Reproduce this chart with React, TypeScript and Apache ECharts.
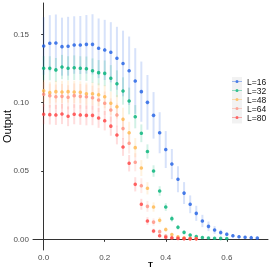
import React, { useEffect, useRef } from "react";
import * as echarts from "echarts";

const T = [0, 0.02, 0.04, 0.06, 0.08, 0.1, 0.12, 0.14, 0.16, 0.18, 0.2, 0.22, 0.24, 0.26, 0.28, 0.3, 0.32, 0.34, 0.36, 0.38, 0.4, 0.42, 0.44, 0.46, 0.48, 0.5, 0.52, 0.54, 0.56, 0.58, 0.6, 0.62, 0.64, 0.66, 0.68, 0.7];

const L16 = [0.1413, 0.1433, 0.1435, 0.1408, 0.1411, 0.142, 0.142, 0.1425, 0.1425, 0.1396, 0.1384, 0.1367, 0.1323, 0.1285, 0.1232, 0.1157, 0.1079, 0.1001, 0.0906, 0.0779, 0.0656, 0.055, 0.0439, 0.0338, 0.0256, 0.019, 0.0134, 0.0095, 0.0068, 0.005, 0.0037, 0.0026, 0.0019, 0.0015, 0.0012, 0.0009];
const L16err = [0.021, 0.0205, 0.0208, 0.0212, 0.0215, 0.021, 0.0212, 0.0214, 0.022, 0.0218, 0.022, 0.022, 0.023, 0.024, 0.025, 0.024, 0.022, 0.02, 0.017, 0.015, 0.0135, 0.011, 0.0095, 0.008, 0.0065, 0.0055, 0.0045, 0.0035, 0.0028, 0.002, 0.0015, 0.0012, 0.001, 0.0008, 0.0006, 0.0005];

const L32 = [0.125, 0.125, 0.1238, 0.1259, 0.125, 0.1254, 0.125, 0.1247, 0.1232, 0.1218, 0.1213, 0.1177, 0.1137, 0.1084, 0.1011, 0.0896, 0.0775, 0.0642, 0.0499, 0.0353, 0.0236, 0.0151, 0.0088, 0.0051, 0.0031, 0.002, 0.0013, 0.001, 0.0008, 0.0007, 0.0006];
const L32err = [0.0088, 0.0088, 0.0087, 0.0089, 0.0088, 0.009, 0.0088, 0.0089, 0.009, 0.0092, 0.0094, 0.0096, 0.0098, 0.01, 0.0098, 0.0085, 0.0065, 0.0052, 0.0042, 0.0035, 0.0028, 0.0022, 0.0017, 0.0012, 0.0009, 0.0007, 0.0005, 0.0004, 0.0003, 0.0003, 0.0002];

const L48 = [0.1085, 0.1072, 0.1079, 0.1077, 0.1079, 0.1077, 0.1075, 0.1064, 0.1064, 0.1057, 0.1042, 0.0994, 0.0969, 0.0877, 0.0779, 0.067, 0.0521, 0.0373, 0.0236, 0.0139, 0.0072, 0.0035, 0.0019, 0.0011, 0.0007, 0.0006];
const L48err = [0.008, 0.008, 0.0079, 0.0081, 0.008, 0.0082, 0.008, 0.0081, 0.0082, 0.0083, 0.0084, 0.0085, 0.0086, 0.0085, 0.008, 0.007, 0.0058, 0.0045, 0.0034, 0.0024, 0.0016, 0.001, 0.0007, 0.0005, 0.0004, 0.0003];

const L64 = [0.106, 0.105, 0.1042, 0.1045, 0.1038, 0.105, 0.1045, 0.1042, 0.1035, 0.1018, 0.0994, 0.0945, 0.0909, 0.081, 0.0702, 0.0563, 0.0392, 0.0241, 0.0126, 0.0056, 0.0024, 0.0013, 0.0008, 0.0006, 0.0005, 0.0004];
const L64err = [0.009, 0.0088, 0.0089, 0.009, 0.0088, 0.0089, 0.009, 0.0089, 0.0088, 0.0087, 0.0086, 0.0085, 0.0083, 0.008, 0.0075, 0.0066, 0.0054, 0.004, 0.0027, 0.0016, 0.0009, 0.0006, 0.0004, 0.0003, 0.0003, 0.0002];

const L80 = [0.0914, 0.0911, 0.0909, 0.0916, 0.0899, 0.0914, 0.0909, 0.0906, 0.0906, 0.0887, 0.0867, 0.0827, 0.0762, 0.0675, 0.0556, 0.0402, 0.0256, 0.0134, 0.0061, 0.0026, 0.0015, 0.001, 0.0007, 0.0005, 0.0004, 0.0004];
const L80err = [0.0073, 0.0072, 0.0073, 0.0074, 0.0072, 0.0073, 0.0072, 0.0073, 0.0072, 0.0072, 0.0071, 0.007, 0.0068, 0.0065, 0.006, 0.0052, 0.004, 0.0028, 0.0017, 0.001, 0.0006, 0.0004, 0.0003, 0.0002, 0.0002, 0.0002];

const NAMES = ["L=16", "L=32", "L=48", "L=64", "L=80"];
const COLORS = ["#1f5fe3", "#00b377", "#ffb84d", "#ff9080", "#ff4040"];
const VALUES = [L16, L32, L48, L64, L80];
const ERRORS = [L16err, L32err, L48err, L64err, L80err];

const X_TICKS = [0, 0.2, 0.4, 0.6];
const Y_TICKS = [0, 0.05, 0.1, 0.15];

const FONT = "Liberation Sans, Arial, sans-serif";
const ICON = "path://M0,1.15H10V1.85H0Z M3.5,1.5A1.5,1.5,0,1,1,6.5,1.5A1.5,1.5,0,1,1,3.5,1.5Z";

export default function App() {
  const ref = useRef<HTMLDivElement>(null);
  useEffect(() => {
    if (!ref.current) return;
    const chart = echarts.init(ref.current, undefined, { renderer: "svg" });
    const series: any[] = [];
    VALUES.forEach((vals, k) => {
      const color = COLORS[k];
      series.push({
        type: "custom",
        name: NAMES[k] + " err",
        z: 1,
        data: vals.map((v, i) => [T[i], v, ERRORS[k][i]]),
        renderItem: (params: any, api: any) => {
          const x = api.value(0);
          const y = api.value(1);
          const e = api.value(2);
          const p1 = api.coord([x, y - e]);
          const p2 = api.coord([x, y + e]);
          return {
            type: "line",
            shape: { x1: p1[0], y1: p1[1], x2: p2[0], y2: p2[1] },
            style: { stroke: color, lineWidth: 2, opacity: 0.18 },
          };
        },
      });
    });
    VALUES.forEach((vals, k) => {
      series.push({
        type: "scatter",
        name: NAMES[k],
        z: 3,
        symbol: "circle",
        symbolSize: 3.6,
        itemStyle: { color: COLORS[k] },
        data: vals.map((v, i) => [T[i], v]),
      });
    });
    chart.setOption({
      animation: false,
      textStyle: { fontFamily: FONT },
      grid: { left: 33, right: 5, top: 3, bottom: 23, containLabel: false, outerBoundsMode: "none" },
      xAxis: {
        type: "value",
        min: -0.035,
        max: 0.735,
        name: "T",
        nameLocation: "middle",
        nameGap: 10,
        nameMoveOverlap: false,
        nameTextStyle: { fontSize: 8, color: "#000", fontWeight: "bold", fontFamily: FONT },
        axisLine: { show: true, lineStyle: { color: "#333", width: 1 } },
        axisTick: { show: true, length: 2.5, lineStyle: { color: "#333" }, customValues: X_TICKS },
        axisLabel: {
          customValues: X_TICKS,
          formatter: (v: number) => v.toFixed(1),
          fontSize: 8,
          color: "#4d4d4d",
          margin: 3.5,
          fontFamily: FONT,
        },
        splitLine: { show: false },
      },
      yAxis: {
        type: "value",
        min: -0.0078,
        max: 0.1727,
        name: "Output",
        nameLocation: "middle",
        nameGap: 21,
        nameMoveOverlap: false,
        nameTextStyle: { fontSize: 11, color: "#000", fontFamily: FONT },
        axisLine: { show: true, lineStyle: { color: "#333", width: 1 } },
        axisTick: { show: true, length: 2.5, lineStyle: { color: "#333" }, customValues: Y_TICKS },
        axisLabel: {
          customValues: Y_TICKS,
          formatter: (v: number) => v.toFixed(2),
          fontSize: 8,
          color: "#4d4d4d",
          margin: 4,
          fontFamily: FONT,
        },
        splitLine: { show: false },
      },
      legend: {
        orient: "vertical",
        left: 232,
        top: 77,
        itemWidth: 10,
        itemHeight: 9.3,
        itemGap: 0,
        symbolKeepAspect: true,
        padding: 0,
        data: NAMES.map((n, k) => ({ name: n, icon: ICON, itemStyle: { color: COLORS[k] } })),
        textStyle: { fontSize: 8.5, color: "#111", padding: [0, 0, 0, 0], fontFamily: FONT },
      },
      graphic: [
        { type: "rect", z: 0, shape: { x: 232, y: 77, width: 10, height: 46.5 }, style: { fill: "#f2f2f2" } },
      ],
      series,
    });
    return () => chart.dispose();
  }, []);
  return <div ref={ref} style={{ position: "fixed", left: 0, top: 0, width: 273, height: 273 }} />;
}
